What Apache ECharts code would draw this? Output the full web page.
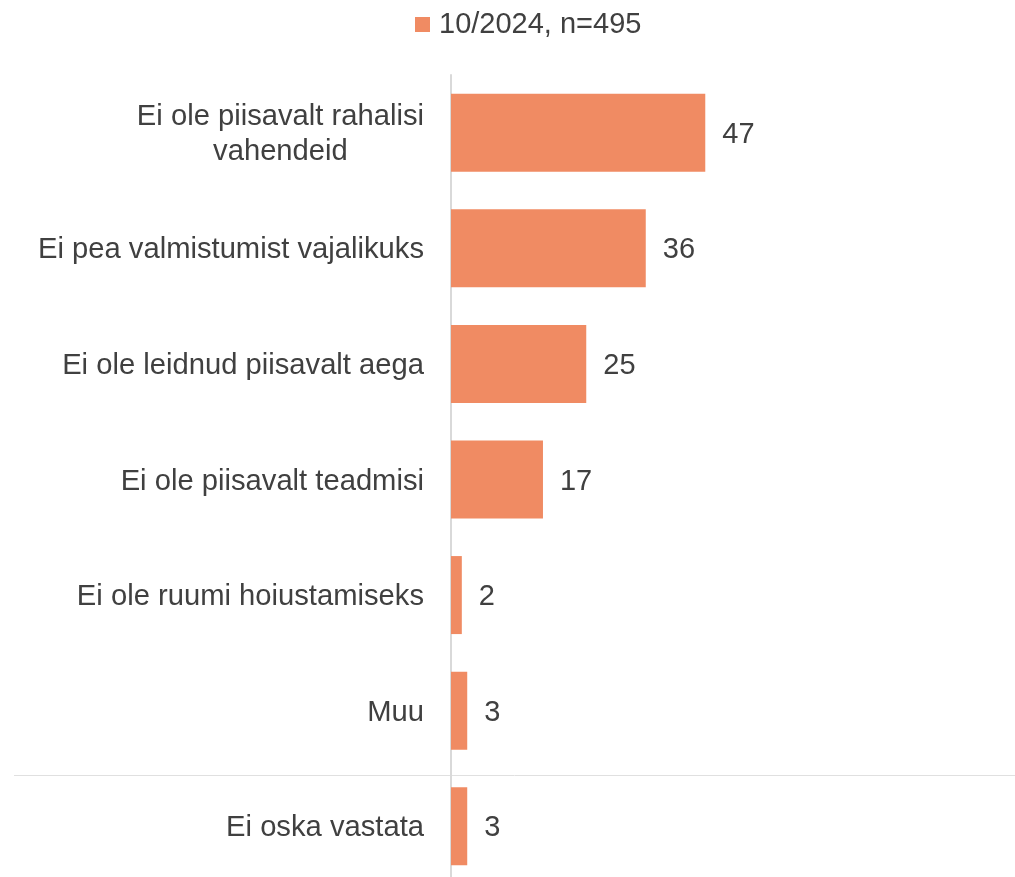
<!DOCTYPE html>
<html>
<head>
<meta charset="utf-8">
<script src="https://cdn.jsdelivr.net/npm/echarts@6/dist/echarts.min.js"></script>
<style>html,body{margin:0;padding:0;background:#fff;overflow:hidden}#c{width:1015px;height:886px}</style>
</head>
<body>
<div id="c"></div>
<script>
const categories = [
  'Ei ole piisavalt rahalisi\nvahendeid',
  'Ei pea valmistumist vajalikuks',
  'Ei ole leidnud piisavalt aega',
  'Ei ole piisavalt teadmisi',
  'Ei ole ruumi hoiustamiseks',
  'Muu',
  'Ei oska vastata'
];
const values = [47, 36, 25, 17, 2, 3, 3];
const seriesName = '10/2024, n=495';

const textColor = '#404040';
const chart = echarts.init(document.getElementById('c'));
chart.setOption({
  animation: false,
  legend: {
    data: [seriesName],
    left: 410,
    top: 5,
    icon: 'rect',
    itemWidth: 15,
    itemHeight: 15,
    textStyle: { fontFamily: 'Liberation Sans', fontSize: 29, color: textColor, padding: [0, 0, 0, 4] }
  },
  grid: { left: 451, top: 75, width: 541, height: 809, containLabel: false },
  xAxis: { type: 'value', min: 0, max: 100, show: false },
  yAxis: {
    type: 'category',
    inverse: true,
    data: categories,
    axisLine: { show: true, lineStyle: { color: '#d9d9d9', width: 2 } },
    axisTick: { show: false },
    splitLine: { show: false },
    axisLabel: {
      margin: 27,
      padding: [4, 0, 0, 0],
      fontFamily: 'Liberation Sans',
      fontSize: 29.2,
      color: textColor,
      lineHeight: 35,
      formatter: function (v) {
        return v.split('\n').map(function (s) { return '{c|' + s + '}'; }).join('\n');
      },
      rich: { c: { align: 'center', fontFamily: 'Liberation Sans', fontSize: 29.2, color: textColor, lineHeight: 35 } }
    }
  },
  graphic: [{
    type: 'line',
    shape: { x1: 14, y1: 775.5, x2: 1015, y2: 775.5 },
    style: { stroke: '#e0e0e0', lineWidth: 1 },
    z: 0
  }],
  series: [{
    name: seriesName,
    type: 'bar',
    data: values,
    barCategoryGap: '32.5%',
    itemStyle: { color: '#F08B63' },
    label: {
      show: true,
      position: 'right',
      distance: 17,
      offset: [0, 2],
      fontFamily: 'Liberation Sans',
      fontSize: 29,
      color: textColor
    }
  }]
});
</script>
</body>
</html>
